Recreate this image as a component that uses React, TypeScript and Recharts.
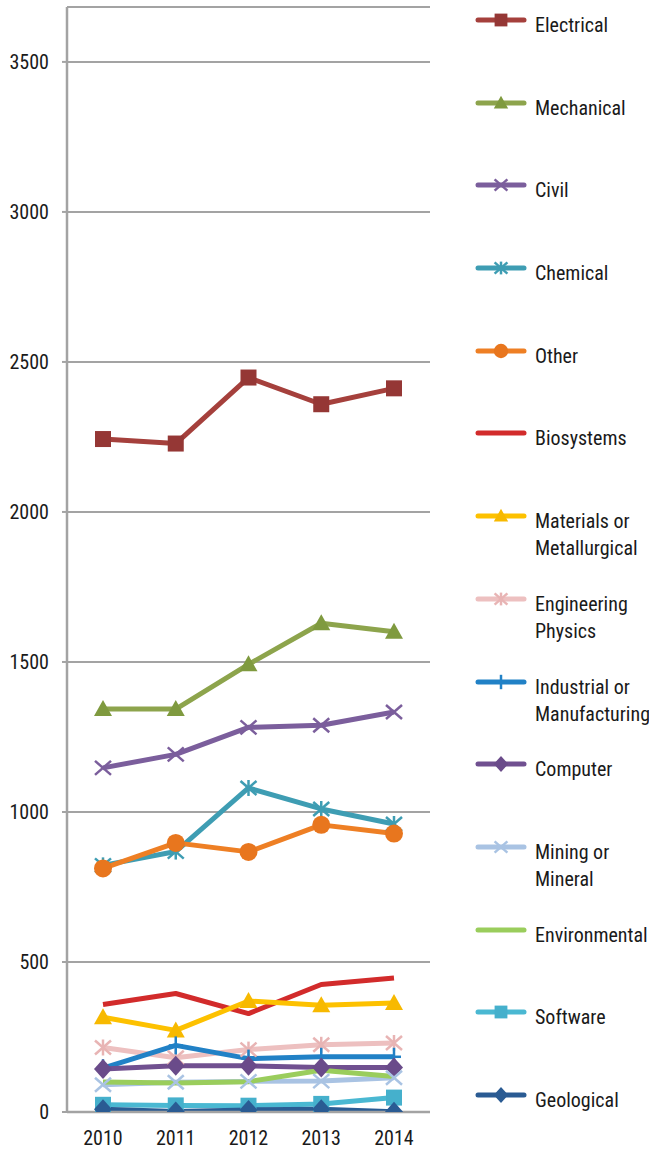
import React from 'react';
import { LineChart, Line, XAxis, YAxis, CartesianGrid, Legend } from 'recharts';

const years = ['2010', '2011', '2012', '2013', '2014'];
const electrical = [2243, 2228, 2448, 2359, 2412];
const mechanical = [1343, 1343, 1492, 1629, 1601];
const civil = [1147, 1192, 1282, 1289, 1333];
const chemical = [822, 868, 1080, 1010, 960];
const other = [812, 897, 867, 957, 928];
const biosystems = [358, 395, 328, 425, 447];
const materials = [316, 272, 370, 356, 363];
const engPhysics = [215, 181, 208, 224, 230];
const industrial = [146, 222, 178, 184, 184];
const computer = [143, 154, 154, 148, 148];
const mining = [91, 99, 102, 103, 114];
const environmental = [100, 97, 101, 139, 118];
const software = [24, 22, 21, 27, 48];
const geological = [9, 2, 7, 9, 1];
const yTicks = [0, 500, 1000, 1500, 2000, 2500, 3000, 3500];

type Shape = 'square' | 'triangle' | 'x' | 'asterisk' | 'circle' | 'none' | 'plus' | 'diamond';

const SERIES: { key: string; name: string[]; values: number[]; color: string; mark: string; shape: Shape }[] = [
  { key: 'electrical', name: ['Electrical'], values: electrical, color: '#a5403c', mark: '#953735', shape: 'square' },
  { key: 'mechanical', name: ['Mechanical'], values: mechanical, color: '#8da44c', mark: '#7f9a3f', shape: 'triangle' },
  { key: 'civil', name: ['Civil'], values: civil, color: '#7b5e9c', mark: '#7b5e9c', shape: 'x' },
  { key: 'chemical', name: ['Chemical'], values: chemical, color: '#3e9db3', mark: '#3e9db3', shape: 'asterisk' },
  { key: 'other', name: ['Other'], values: other, color: '#ee7f24', mark: '#e8761e', shape: 'circle' },
  { key: 'biosystems', name: ['Biosystems'], values: biosystems, color: '#d22b2b', mark: '#d22b2b', shape: 'none' },
  { key: 'materials', name: ['Materials or', 'Metallurgical'], values: materials, color: '#fdc100', mark: '#f7b900', shape: 'triangle' },
  { key: 'engPhysics', name: ['Engineering', 'Physics'], values: engPhysics, color: '#edc0c0', mark: '#e8b4b4', shape: 'asterisk' },
  { key: 'industrial', name: ['Industrial or', 'Manufacturing'], values: industrial, color: '#2181c6', mark: '#2181c6', shape: 'plus' },
  { key: 'computer', name: ['Computer'], values: computer, color: '#705090', mark: '#6a4b8a', shape: 'diamond' },
  { key: 'mining', name: ['Mining or', 'Mineral'], values: mining, color: '#a9c3e3', mark: '#a9c3e3', shape: 'x' },
  { key: 'environmental', name: ['Environmental'], values: environmental, color: '#9acd5c', mark: '#9acd5c', shape: 'none' },
  { key: 'software', name: ['Software'], values: software, color: '#4ab8d2', mark: '#45b0cc', shape: 'square' },
  { key: 'geological', name: ['Geological'], values: geological, color: '#2a5b93', mark: '#2a5b93', shape: 'diamond' },
];

const data = years.map((y, i) => {
  const row: Record<string, any> = { year: y };
  SERIES.forEach((s) => { row[s.key] = s.values[i]; });
  return row;
});

const FONT = "'Liberation Sans Narrow', 'Arial Narrow', 'Roboto Condensed', Roboto, sans-serif";

function Marker({ cx, cy, shape, color, k = 1 }: { cx: number; cy: number; shape: Shape; color: string; k?: number }) {
  if (cx == null || cy == null || isNaN(cx) || isNaN(cy)) return null;
  const s = k;
  switch (shape) {
    case 'square':
      return <rect x={cx - 8 * s} y={cy - 8 * s} width={16 * s} height={16 * s} fill={color} />;
    case 'triangle':
      return <polygon points={`${cx},${cy - 9 * s} ${cx + 9 * s},${cy + 7 * s} ${cx - 9 * s},${cy + 7 * s}`} fill={color} />;
    case 'circle':
      return <circle cx={cx} cy={cy} r={9 * s} fill={color} />;
    case 'diamond':
      return <polygon points={`${cx},${cy - 10 * s} ${cx + 9 * s},${cy} ${cx},${cy + 10 * s} ${cx - 9 * s},${cy}`} fill={color} />;
    case 'x':
      return (
        <g stroke={color} strokeWidth={2.5}>
          <line x1={cx - 8 * s} y1={cy - 7 * s} x2={cx + 8 * s} y2={cy + 7 * s} />
          <line x1={cx - 8 * s} y1={cy + 7 * s} x2={cx + 8 * s} y2={cy - 7 * s} />
        </g>
      );
    case 'asterisk':
      return (
        <g stroke={color} strokeWidth={2.5}>
          <line x1={cx - 8 * s} y1={cy - 7 * s} x2={cx + 8 * s} y2={cy + 7 * s} />
          <line x1={cx - 8 * s} y1={cy + 7 * s} x2={cx + 8 * s} y2={cy - 7 * s} />
          <line x1={cx} y1={cy - 8 * s} x2={cx} y2={cy + 8 * s} />
        </g>
      );
    case 'plus':
      return (
        <g stroke={color} strokeWidth={2.5}>
          <line x1={cx} y1={cy - 9 * s} x2={cx} y2={cy + 9 * s} />
          <line x1={cx - 7 * s} y1={cy} x2={cx + 7 * s} y2={cy} />
        </g>
      );
    default:
      return null;
  }
}

const LEGEND_LEFT = 460;
const legendY = [20, 103, 185, 268, 351, 433, 516, 599, 682, 764, 847, 930, 1012, 1095];

function LegendContent() {
  return (
    <svg width={189} height={1150} style={{ display: 'block' }}>
      {SERIES.map((s, i) => {
        const ly = legendY[i];
        return (
          <g key={s.key}>
            <line x1={478 - LEGEND_LEFT} x2={524 - LEGEND_LEFT} y1={ly} y2={ly} stroke={s.color} strokeWidth={5} strokeLinecap="round" />
            <Marker cx={501 - LEGEND_LEFT} cy={ly} shape={s.shape} color={s.mark} k={0.8} />
            <text x={535 - LEGEND_LEFT} y={ly + 12} fontFamily={FONT} fontSize={20} fill="#1a1a1a">
              {s.name.map((n, j) => (
                <tspan key={j} x={535 - LEGEND_LEFT} dy={j === 0 ? 0 : 27}>{n}</tspan>
              ))}
            </text>
          </g>
        );
      })}
    </svg>
  );
}

export default function App() {
  return (
    <div style={{ position: 'absolute', left: 0, top: 0, width: 649, height: 1150, background: '#fff' }}>
      <LineChart width={649} height={1150} data={data} margin={{ top: 7, right: 219, bottom: 0, left: 7 }}>
        <CartesianGrid vertical={false} stroke="#a3a3a3" strokeWidth={2} />
        <XAxis
          dataKey="year"
          padding={{ left: 36, right: 36 }}
          height={38}
          tickLine={false}
          tickSize={6}
          tickMargin={13}
          axisLine={{ stroke: '#a3a3a3', strokeWidth: 2.5 }}
          tick={{ fontFamily: FONT, fontSize: 20, fill: '#1a1a1a' }}
          interval={0}
        />
        <YAxis
          width={60}
          domain={[0, 3683]}
          ticks={yTicks}
          allowDataOverflow
          tickSize={5}
          tickMargin={13}
          tickLine={{ stroke: '#a3a3a3', strokeWidth: 2 }}
          axisLine={{ stroke: '#a3a3a3', strokeWidth: 2.5 }}
          tick={{ fontFamily: FONT, fontSize: 20, fill: '#1a1a1a' }}
        />
        <Legend
          layout="vertical"
          align="center"
          verticalAlign="middle"
          content={() => <LegendContent />}
          wrapperStyle={{ position: 'absolute', left: LEGEND_LEFT, top: 0, width: 189, height: 1150 }}
        />
        {SERIES.map((s) => (
          <Line
            key={s.key}
            dataKey={s.key}
            name={s.name.join(' ')}
            stroke={s.color}
            strokeWidth={5}
            strokeLinejoin="round"
            type="linear"
            isAnimationActive={false}
            activeDot={false}
            dot={(p: any) => (
              <Marker key={`${s.key}-${p.index}`} cx={p.cx} cy={p.cy} shape={s.shape} color={s.mark} />
            )}
          />
        ))}
      </LineChart>
    </div>
  );
}
